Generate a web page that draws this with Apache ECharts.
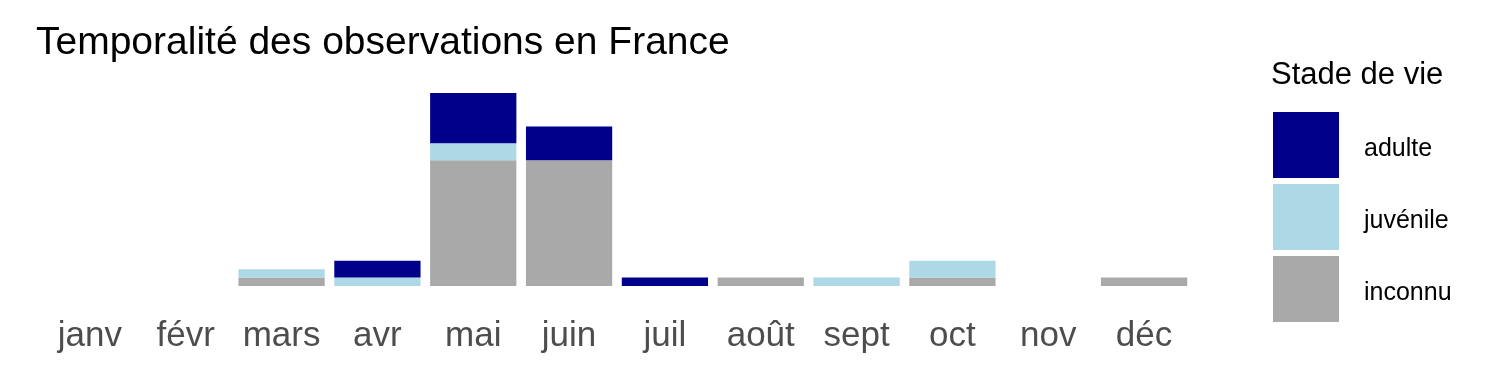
<!DOCTYPE html>
<html>
<head>
<meta charset="utf-8">
<script src="https://cdn.jsdelivr.net/npm/echarts@6/dist/echarts.min.js"></script>
<style>
html,body{margin:0;padding:0;background:#fff;}
#chart{width:1500px;height:375px;}
</style>
</head>
<body>
<div id="chart"></div>
<script>
const months = ['janv','févr','mars','avr','mai','juin','juil','août','sept','oct','nov','déc'];
const adulte = [0,0,0,2,6,4,1,0,0,0,0,0];
const juvenile = [0,0,1,1,2,0,0,0,1,2,0,0];
const inconnu = [0,0,1,0,15,15,0,1,0,1,0,1];
const legendOrder = ['adulte','juvénile','inconnu'];
const colors = {adulte:'#00008B', 'juvénile':'#ADD8E6', inconnu:'#A9A9A9'};

const totals = months.map((_, i) => adulte[i] + juvenile[i] + inconnu[i]);
const maxTotal = Math.max.apply(null, totals);
const FONT = '"Liberation Sans", Arial, sans-serif';

const chart = echarts.init(document.getElementById('chart'));
chart.setOption({
  animation: false,
  backgroundColor: '#ffffff',
  textStyle: {fontFamily: FONT},
  title: [
    {text: 'Temporalité des observations en France', left: 31, top: 19,
     textStyle: {fontFamily: FONT, fontSize: 39, fontWeight: 'normal', color: '#000'}},
    {text: 'Stade de vie', left: 1266, top: 55,
     textStyle: {fontFamily: FONT, fontSize: 31, fontWeight: 'normal', color: '#000'}}
  ],
  legend: {
    orient: 'vertical', left: 1268, top: 107,
    itemWidth: 66, itemHeight: 66, itemGap: 6,
    icon: 'rect',
    data: legendOrder,
    formatter: '{a|{name}}',
    textStyle: {fontFamily: FONT, fontSize: 25, color: '#000', padding: [0,0,0,20],
      rich: {a: {fontFamily: FONT, fontSize: 25, color: '#000', padding: [8,0,0,0]}}}
  },
  grid: {left: 42, right: 308, top: 93, bottom: 89},
  xAxis: {
    type: 'category', data: months,
    axisLine: {show: false}, axisTick: {show: false}, splitLine: {show: false},
    axisLabel: {fontFamily: FONT, fontSize: 35, color: '#4D4D4D', margin: 33, interval: 0}
  },
  yAxis: {type: 'value', min: 0, max: maxTotal, show: false, splitLine: {show: false}},
  series: [
    {name: 'inconnu', type: 'bar', stack: 't', data: inconnu, barCategoryGap: '10%', itemStyle: {color: colors.inconnu}},
    {name: 'juvénile', type: 'bar', stack: 't', data: juvenile, itemStyle: {color: colors['juvénile']}},
    {name: 'adulte', type: 'bar', stack: 't', data: adulte, itemStyle: {color: colors.adulte}}
  ]
});
</script>
</body>
</html>
